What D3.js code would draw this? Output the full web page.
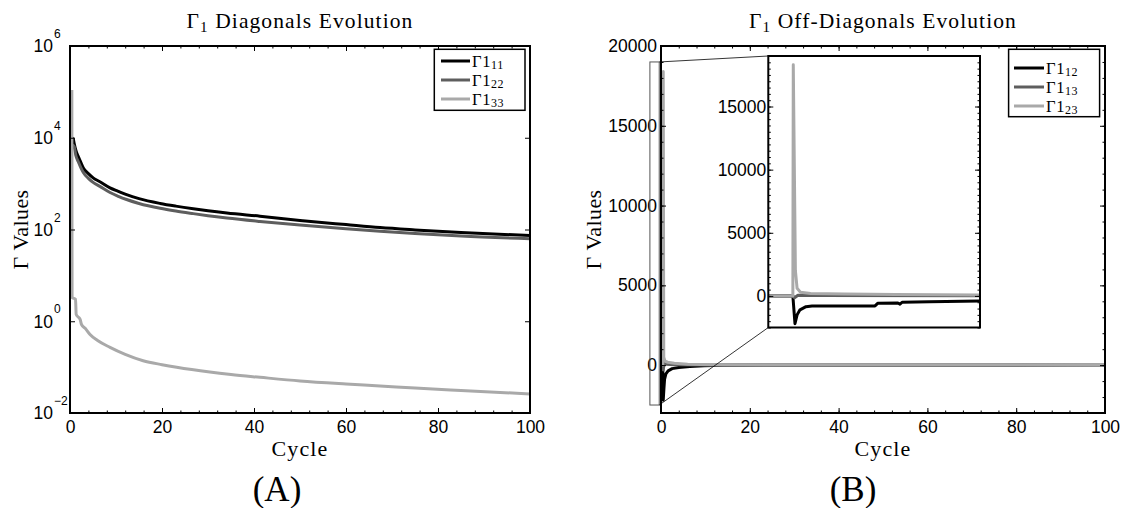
<!DOCTYPE html>
<html>
<head>
<meta charset="utf-8">
<script src="https://cdn.jsdelivr.net/npm/d3@7"></script>
<style>
  body { margin: 0; background: #fff; }
  svg text { font-family: "Liberation Sans", Arial, sans-serif; fill: #000; }
  svg text.serif { font-family: "Liberation Serif", "Times New Roman", serif; }
</style>
</head>
<body>
<svg id="fig" width="1123" height="508"></svg>
<script>
// ---- Γ1 diagonal entries (log scale panel) ----
const diagCycles = [0.45, 0.7, 0.9, 1.3, 1.8, 2.3, 2.9, 4, 5.1, 6.5, 8.7, 10.5, 12.3, 15, 19.6, 23, 26.8, 30, 34.1, 41.3, 50, 60, 67.4, 75, 85, 100];
const gamma11 = [10000, 9500, 7600, 5200, 3900, 3000, 2200, 1650, 1320, 1100, 810, 680, 575, 470, 370, 323, 283, 256, 229, 195, 158, 128, 110, 98, 86, 74];
const gamma22 = [7000, 6800, 6400, 4000, 3000, 2300, 1750, 1300, 1050, 870, 640, 530, 450, 370, 290, 253, 222, 200, 178, 150, 125, 104, 92, 82, 72, 63];
const gamma33Cycles = [0.4, 0.45, 1.2, 1.35, 2.2, 2.5, 3.3, 4.3, 6, 8.7, 12, 15.9, 20, 23.2, 30.4, 35, 41.3, 50, 60, 67.4, 75, 85, 100];
const gamma33 = [110000, 3.3, 3.0, 1.4, 1.1, 0.85, 0.7, 0.52, 0.38, 0.27, 0.19, 0.138, 0.113, 0.099, 0.078, 0.069, 0.060, 0.050, 0.043, 0.039, 0.035, 0.031, 0.026];

// ---- Γ1 off-diagonal entries (linear panel) ----
const off12Cycles = [0, 0.4, 0.5, 0.65, 0.8, 1.1, 1.6, 2.5, 4.0, 6.5, 9.7, 14, 20, 100];
const gamma12 = [0, 0, -2200, -1500, -900, -550, -360, -220, -145, -80, -45, -15, 0, 0];
const off13Cycles = [0, 0.4, 0.5, 0.7, 1.2, 3, 10, 100];
const gamma13 = [0, 0, -300, 100, 60, 30, 10, 0];
const off23Cycles = [0, 0.4, 0.5, 0.62, 0.9, 1.5, 3, 6, 12, 25, 100];
const gamma23 = [0, 0, 18400, 500, 250, 180, 120, 60, 25, 5, 0];

// ---- zoomed view of the first cycles ----
const zoomCycles12 = [-0.3, -0.01, 0.015, 0.04, 0.074, 0.145, 0.216, 0.96, 0.995, 1.23, 1.255, 1.28, 1.6, 2.2];
const zoomGamma12 = [0, 0, -2200, -1500, -1100, -850, -800, -790, -570, -560, -650, -500, -460, -400];
const zoomCycles13 = [-0.3, -0.01, 0.01, 0.05, 0.3, 2.2];
const zoomGamma13 = [0, 0, -150, 50, 30, 10];
const zoomCycles23 = [-0.3, -0.01, -0.005, 0.02, 0.04, 0.08, 0.2, 0.6, 1.2, 2.2];
const zoomGamma23 = [0, 0, 18300, 2000, 600, 300, 200, 150, 120, 80];

// ---- ticks ----
const cycleTicks = [0, 20, 40, 60, 80, 100];
const cycleMinor = d3.range(0, 101, 4);
const logExponents = [-2, 0, 2, 4, 6];
const offTicks = [0, 5000, 10000, 15000, 20000];
const offMinor = d3.range(-3000, 20001, 1000);
const zoomTicks = [0, 5000, 10000, 15000];
const zoomMinor = d3.range(-2500, 19001, 500);

const seriesColors = ["#000000", "#5e5e5e", "#a9a9a9"];
const diagNames = ["11", "22", "33"];
const offNames = ["12", "13", "23"];

const svg = d3.select("#fig");

// draws inward ticks on all four sides plus a frame
function drawFrame(g, x, y, box, o) {
  const tick = (axis, tr, values, size, fmt, pad) => {
    const a = axis.tickValues(values).tickSize(size).tickPadding(pad || 8);
    a.tickFormat(fmt || (() => ""));
    const s = g.append("g").attr("transform", tr).call(a);
    s.select(".domain").remove();
    s.selectAll(".tick line").attr("stroke", "#000").attr("stroke-width", 1);
    s.selectAll("text").attr("font-size", 17.5);
    return s;
  };
  if (o.xMajor) {
    tick(d3.axisBottom(x), `translate(0,${box.y1})`, o.xMajor, -5, o.xFmt, 8);
    tick(d3.axisBottom(x), `translate(0,${box.y1})`, o.xMinor, -2.5);
    tick(d3.axisTop(x), `translate(0,${box.y0})`, o.xMajor, -5);
    tick(d3.axisTop(x), `translate(0,${box.y0})`, o.xMinor, -2.5);
  }
  tick(d3.axisLeft(y), `translate(${box.x0},0)`, o.yMajor, -5, o.yFmt, o.yPad);
  tick(d3.axisRight(y), `translate(${box.x1},0)`, o.yMajor, -5);
  if (o.yMinor) {
    tick(d3.axisLeft(y), `translate(${box.x0},0)`, o.yMinor, -2.5);
    tick(d3.axisRight(y), `translate(${box.x1},0)`, o.yMinor, -2.5);
  }
  g.append("rect")
    .attr("x", box.x0).attr("y", box.y0)
    .attr("width", box.x1 - box.x0).attr("height", box.y1 - box.y0)
    .attr("fill", "none").attr("stroke", "#000").attr("stroke-width", 2);
}

function addClip(id, box) {
  svg.append("clipPath").attr("id", id).append("rect")
    .attr("x", box.x0).attr("y", box.y0 - 1)
    .attr("width", box.x1 - box.x0).attr("height", box.y1 - box.y0 + 2);
}

function drawSeries(g, x, y, xs, ys, color, width, curve) {
  const line = d3.line().x(d => x(d[0])).y(d => y(d[1])).curve(curve || d3.curveLinear);
  g.append("path").datum(d3.zip(xs, ys))
    .attr("d", line).attr("fill", "none")
    .attr("stroke", color).attr("stroke-width", width)
    .attr("stroke-linejoin", "round");
}

function drawLegend(box, rows, names) {
  const g = svg.append("g");
  g.append("rect").attr("x", box.x).attr("y", box.y).attr("width", box.w).attr("height", box.h)
    .attr("fill", "#fff").attr("stroke", "#000").attr("stroke-width", 1.5);
  rows.forEach((ry, i) => {
    g.append("line").attr("x1", box.lx0).attr("x2", box.lx1).attr("y1", ry).attr("y2", ry)
      .attr("stroke", seriesColors[i]).attr("stroke-width", 3);
    const t = g.append("text").attr("class", "serif").attr("x", box.lx1 + 2).attr("y", ry + 5.5)
      .attr("font-size", 16.5).attr("letter-spacing", 0.6);
    t.append("tspan").text("Γ1");
    t.append("tspan").attr("font-size", 12).attr("dy", 2.5).text(names[i]);
  });
}

function title(x, y, rest) {
  const t = svg.append("text").attr("class", "serif").attr("x", x).attr("y", y)
    .attr("text-anchor", "middle").attr("font-size", 21.5).attr("letter-spacing", 1.1);
  t.append("tspan").text("Γ");
  t.append("tspan").attr("font-size", 15).attr("dy", 4).text("1");
  t.append("tspan").attr("dy", -4).text(" " + rest);
}

function yLabel(x, y) {
  svg.append("text").attr("class", "serif")
    .attr("transform", `translate(${x},${y}) rotate(-90)`)
    .attr("text-anchor", "middle").attr("font-size", 22).attr("letter-spacing", 0.4).text("Γ Values");
}

function xLabel(x, y) {
  svg.append("text").attr("class", "serif").attr("x", x).attr("y", y)
    .attr("text-anchor", "middle").attr("font-size", 22).attr("letter-spacing", 1.1).text("Cycle");
}

// ================= Panel A: diagonals =================
const A = { x0: 70, x1: 530, y0: 46, y1: 413 };
const xA = d3.scaleLinear().domain([0, 100]).range([A.x0, A.x1]);
const yA = d3.scaleLog().domain([1e-2, 1e6]).range([A.y1, A.y0]);
addClip("clipA", A);
const gA = svg.append("g");
const dataA = gA.append("g").attr("clip-path", "url(#clipA)");
drawSeries(dataA, xA, yA, diagCycles, gamma11, seriesColors[0], 3, d3.curveMonotoneX);
drawSeries(dataA, xA, yA, diagCycles, gamma22, seriesColors[1], 3, d3.curveMonotoneX);
drawSeries(dataA, xA, yA, gamma33Cycles, gamma33, seriesColors[2], 3, d3.curveMonotoneX);
drawFrame(gA, xA, yA, A, {
  xMajor: cycleTicks, xMinor: cycleMinor, xFmt: d3.format("d"),
  yMajor: logExponents.map(e => Math.pow(10, e))
});
// power-of-ten labels
logExponents.forEach(e => {
  const yy = yA(Math.pow(10, e));
  gA.append("text").attr("x", A.x0 - 17).attr("y", yy).attr("dy", "0.36em")
    .attr("text-anchor", "end").attr("font-size", 17.5).text("10");
  gA.append("text").attr("x", A.x0 - 16).attr("y", yy - 8)
    .attr("font-size", 12).text(e < 0 ? "\u2212" + (-e) : String(e));
});
drawLegend({ x: 434.3, y: 49.3, w: 90.7, h: 61, lx0: 441, lx1: 470 }, [61, 80, 99], diagNames);
title(300, 28, "Diagonals Evolution");
yLabel(28, 229.5);
xLabel(300, 456);
svg.append("text").attr("class", "serif").attr("x", 277).attr("y", 501)
  .attr("text-anchor", "middle").attr("font-size", 35).text("(A)");

// ================= Panel B: off-diagonals =================
const B = { x0: 661, x1: 1105, y0: 46, y1: 413 };
const xB = d3.scaleLinear().domain([0, 100]).range([B.x0, B.x1]);
const yB = d3.scaleLinear().domain([-3000, 20000]).range([B.y1, B.y0]);
addClip("clipB", B);
const gB = svg.append("g");
const dataB = gB.append("g").attr("clip-path", "url(#clipB)");
drawSeries(dataB, xB, yB, off12Cycles, gamma12, seriesColors[0], 3);
drawSeries(dataB, xB, yB, off13Cycles, gamma13, seriesColors[1], 3);
drawSeries(dataB, xB, yB, off23Cycles, gamma23, seriesColors[2], 3);
drawFrame(gB, xB, yB, B, {
  xMajor: cycleTicks, xMinor: cycleMinor, xFmt: d3.format("d"),
  yMajor: offTicks, yMinor: offMinor, yFmt: d3.format("d"), yPad: 4
});

// region shown in the zoomed view
const zoomX = [-2.5, -0.4], zoomY = [-2500, 19000];
const Z = { x0: 768.3, x1: 980, y0: 56, y1: 327.5 };
svg.append("rect")
  .attr("x", xB(zoomX[0])).attr("y", yB(zoomY[1]))
  .attr("width", xB(zoomX[1]) - xB(zoomX[0])).attr("height", yB(zoomY[0]) - yB(zoomY[1]))
  .attr("fill", "none").attr("stroke", "#555").attr("stroke-width", 1);
svg.append("line").attr("x1", xB(zoomX[1])).attr("y1", yB(zoomY[1])).attr("x2", Z.x0).attr("y2", Z.y0)
  .attr("stroke", "#000").attr("stroke-width", 0.8);
svg.append("line").attr("x1", xB(zoomX[1])).attr("y1", yB(zoomY[0])).attr("x2", Z.x0).attr("y2", Z.y1)
  .attr("stroke", "#000").attr("stroke-width", 0.8);

// zoomed view
const xZ = d3.scaleLinear().domain([-0.3, 2.2]).range([Z.x0, Z.x1]);
const yZ = d3.scaleLinear().domain(zoomY).range([Z.y1, Z.y0]);
addClip("clipZ", Z);
const gZ = svg.append("g");
gZ.append("rect").attr("x", Z.x0).attr("y", Z.y0).attr("width", Z.x1 - Z.x0).attr("height", Z.y1 - Z.y0)
  .attr("fill", "#fff");
const dataZ = gZ.append("g").attr("clip-path", "url(#clipZ)");
drawSeries(dataZ, xZ, yZ, zoomCycles12, zoomGamma12, seriesColors[0], 3);
drawSeries(dataZ, xZ, yZ, zoomCycles13, zoomGamma13, seriesColors[1], 3);
drawSeries(dataZ, xZ, yZ, zoomCycles23, zoomGamma23, seriesColors[2], 3);
drawFrame(gZ, xZ, yZ, Z, {
  yMajor: zoomTicks, yMinor: zoomMinor, yFmt: d3.format("d"), yPad: 2
});

drawLegend({ x: 1008.6, y: 49.3, w: 91, h: 67.4, lx0: 1014, lx1: 1044 }, [68, 87, 106], offNames);
title(883, 28, "Off-Diagonals Evolution");
yLabel(601, 229.5);
xLabel(883, 456);
svg.append("text").attr("class", "serif").attr("x", 853).attr("y", 501)
  .attr("text-anchor", "middle").attr("font-size", 35).text("(B)");
</script>
</body>
</html>
